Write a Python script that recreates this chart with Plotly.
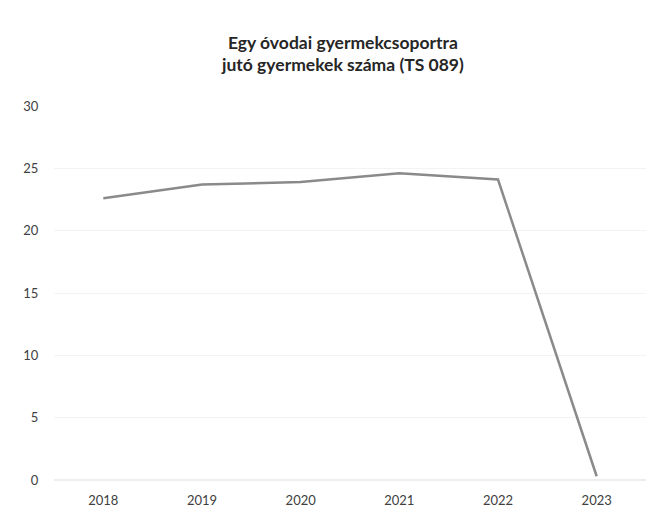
import plotly.graph_objects as go

years = ["2018", "2019", "2020", "2021", "2022", "2023"]
values = [22.6, 23.7, 23.9, 24.6, 24.1, 0.3]
y_ticks = [0, 5, 10, 15, 20, 25, 30]
title_text = "Egy óvodai gyermekcsoportra<br>jutó gyermekek száma (TS 089)"

fig = go.Figure()
fig.add_trace(go.Scatter(
    x=years, y=values, mode="lines",
    line=dict(color="#8a8a8a", width=2.5),
    showlegend=False,
))

fig.update_layout(
    width=658, height=520,
    margin=dict(l=46, r=20, t=98, b=48),
    paper_bgcolor="white", plot_bgcolor="white",
    font=dict(family="Lato, Noto Sans, sans-serif", color="#404040", size=13),
    title=dict(text="<b>" + title_text + "</b>", x=0.509, xanchor="center",
               y=0.922, yanchor="top",
               font=dict(size=17.5, color="#262626", family="Lato, sans-serif")),
)
fig.update_xaxes(type="category", range=[-0.5, 5.5], showgrid=False,
                 showline=False, zeroline=False, automargin=False,
                 ticks="outside", ticklen=8, tickcolor="rgba(0,0,0,0)")
fig.update_yaxes(range=[0, 30], tickvals=y_ticks, showgrid=True,
                 gridcolor="#f3f3f3", zeroline=True, zerolinecolor="#eeeeee",
                 showline=False, automargin=False,
                 ticks="outside", ticklen=12, tickcolor="rgba(0,0,0,0)")

fig.write_html("out.html")
